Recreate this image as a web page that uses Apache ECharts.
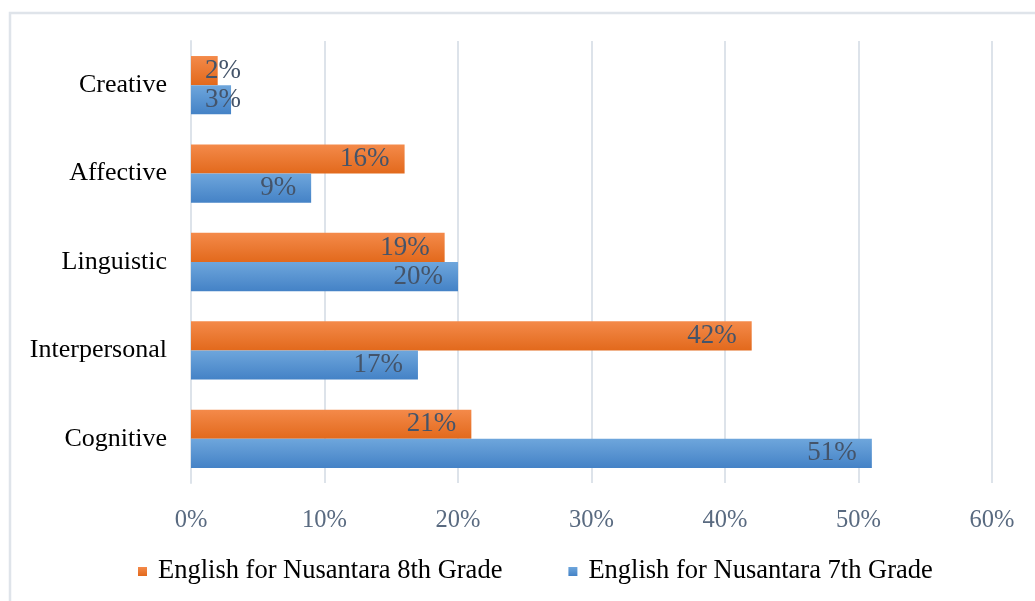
<!DOCTYPE html>
<html>
<head>
  <meta charset="utf-8">
  <title>Bar chart</title>
  <script src="https://fastly.jsdelivr.net/npm/echarts@6/dist/echarts.min.js"></script>
</head>
<body style="margin:0">
<div id="chart-container" style="width:1035px;height:601px;"></div>
<script type="text/javascript">
  var categories = ['Cognitive', 'Interpersonal', 'Linguistic', 'Affective', 'Creative'];
  var grade8 = [21, 42, 19, 16, 2];
  var grade7 = [51, 17, 20, 9, 3];
  var xTicks = [0, 10, 20, 30, 40, 50, 60];

  var serif = '"Liberation Serif", "DejaVu Serif", serif';
  var labelColor = '#44546a';

  function grad(top, bottom) {
    return new echarts.graphic.LinearGradient(0, 0, 0, 1, [
      { offset: 0, color: top },
      { offset: 1, color: bottom }
    ]);
  }

  // tiny bars get their label pushed past the bar end, like Excel does
  function toItems(values) {
    return values.map(function (v) {
      if (v < 5) {
        return { value: v, label: { position: 'insideLeft', distance: 14 } };
      }
      return v;
    });
  }

  var dom = document.getElementById('chart-container');
  var myChart = echarts.init(dom, null, { renderer: 'canvas' });

  var barLabel = {
    show: true,
    position: 'insideRight',
    distance: 15,
    formatter: '{c}%',
    fontFamily: serif,
    fontSize: 27,
    color: labelColor
  };

  var option = {
    animation: false,
    backgroundColor: '#fff',
    graphic: [
      {
        type: 'polyline',
        shape: { points: [[10, 640], [10, 13], [1080, 13]] },
        style: { stroke: '#dfe4ea', lineWidth: 2.5, fill: null }
      }
    ],
    grid: { left: 191, right: 43, top: 41, bottom: 118 },
    legend: {
      bottom: 11,
      left: 133,
      itemGap: 66,
      itemWidth: 9,
      itemHeight: 9,
      icon: 'rect',
      textStyle: { fontFamily: serif, fontSize: 26.5, color: '#000', padding: [0, 0, 0, 6] },
      data: ['English for Nusantara 8th Grade', 'English for Nusantara 7th Grade']
    },
    xAxis: {
      type: 'value',
      min: 0,
      max: 60,
      interval: 10,
      axisLine: { show: false },
      axisTick: { show: false },
      splitLine: { lineStyle: { color: '#dde3ea', width: 2 } },
      axisLabel: {
        margin: 25,
        fontFamily: serif,
        fontSize: 24.5,
        color: '#596a80',
        formatter: function (v) { return xTicks.indexOf(v) >= 0 ? v + '%' : ''; }
      }
    },
    yAxis: {
      type: 'category',
      data: categories,
      axisLine: { lineStyle: { color: '#dde3ea', width: 2 } },
      axisTick: { show: false },
      axisLabel: { margin: 24, fontFamily: serif, fontSize: 26, color: '#000' }
    },
    series: [
      {
        name: 'English for Nusantara 8th Grade',
        type: 'bar',
        data: toItems(grade8),
        barGap: '0%',
        barCategoryGap: '34%',
        itemStyle: { color: grad('#f48a4a', '#e2691c') },
        label: barLabel
      },
      {
        name: 'English for Nusantara 7th Grade',
        type: 'bar',
        data: toItems(grade7),
        barGap: '0%',
        barCategoryGap: '34%',
        itemStyle: { color: grad('#6ea6dc', '#4482c6') },
        label: barLabel
      }
    ]
  };

  myChart.setOption(option);
  window.addEventListener('resize', myChart.resize);
</script>
</body>
</html>
